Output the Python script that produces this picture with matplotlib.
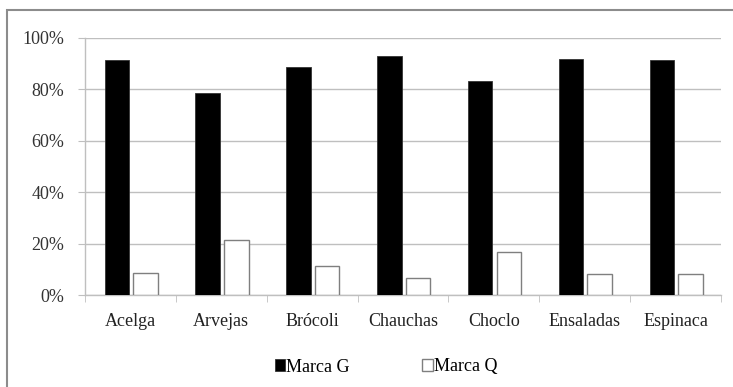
import numpy as np
import matplotlib
matplotlib.use('Agg')
import matplotlib.pyplot as plt
import matplotlib.ticker
from matplotlib.patches import Rectangle

categories = ['Acelga', 'Arvejas', 'Brócoli', 'Chauchas', 'Choclo', 'Ensaladas', 'Espinaca']
marca_g = [91.5, 78.5, 88.7, 93.0, 83.4, 91.7, 91.4]
marca_q = [8.4, 21.4, 11.3, 6.7, 16.6, 8.2, 8.2]
series_names = ['Marca G', 'Marca Q']

plt.rcParams['font.family'] = ['Liberation Serif', 'DejaVu Serif']
GRID = '#bfbfbf'
FS = 13

W, H = 733, 387
fig = plt.figure(figsize=(W / 100, H / 100), dpi=100)
ax = fig.add_axes([85 / W, 1 - 295 / H, (721 - 85) / W, (295 - 38) / H])

x = np.arange(len(categories))
width = 0.27
ax.bar(x - 0.15, marca_g, width, color='black', edgecolor='#333333', linewidth=0.6,
       label=series_names[0], zorder=3)
ax.bar(x + 0.165, marca_q, width, color='white', edgecolor='#7f7f7f', linewidth=1.0,
       label=series_names[1], zorder=3)

ax.set_xlim(-0.5, len(categories) - 0.5)
ax.set_ylim(0, 100)
ax.yaxis.set_major_locator(matplotlib.ticker.MultipleLocator(20))
ax.yaxis.set_major_formatter(matplotlib.ticker.FuncFormatter(lambda v, _: f'{v:.0f}%'))
ax.grid(True, axis='y', color=GRID, linewidth=1.0, zorder=0)

# category labels centred, tick marks on the boundaries
ax.set_xticks(x)
ax.set_xticklabels(categories, fontsize=FS, color='#222222')
ax.tick_params(axis='x', which='major', length=0, pad=13)
ax.set_xticks(np.arange(len(categories) + 1) - 0.5, minor=True)
ax.tick_params(axis='x', which='minor', length=5, color=GRID, direction='out')
ax.tick_params(axis='y', length=5, color=GRID, labelsize=FS, labelcolor='#333333', pad=10)

for side in ['top', 'right']:
    ax.spines[side].set_visible(False)
for side in ['left', 'bottom']:
    ax.spines[side].set_color(GRID)
    ax.spines[side].set_linewidth(1.0)

handles, labels = ax.get_legend_handles_labels()
fig.legend(handles, labels, loc='center', bbox_to_anchor=(386 / W, 1 - 367 / H),
           ncol=2, frameon=False, fontsize=FS, handlelength=0.6, handleheight=0.6,
           handletextpad=0.05, columnspacing=4.0)

# outer chart-area frame
fig.patches.append(Rectangle((7 / W, -0.1), 1.2, 1 - 10 / H + 0.1, transform=fig.transFigure,
                             fill=False, edgecolor='#8c8c8c', linewidth=1.5))

fig.savefig('out.png', dpi=100)
